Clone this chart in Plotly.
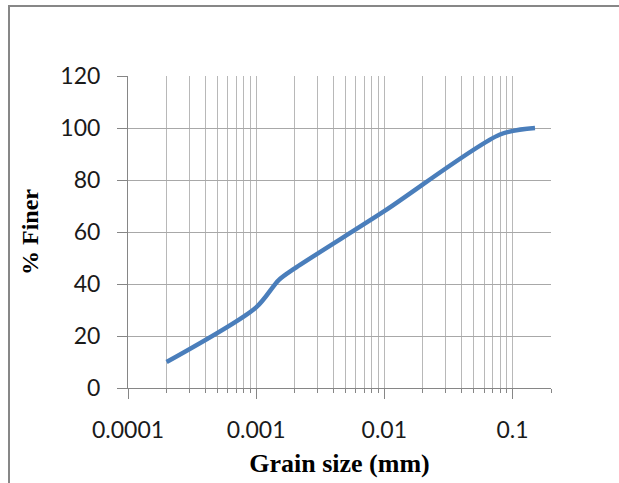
import plotly.graph_objects as go

# Data
grain_size_mm = [0.0002, 0.001, 0.0015, 0.002, 0.01, 0.08, 0.15]
percent_finer = [10, 31, 41.5, 46, 68, 97.5, 100]

x_tick_vals = [0.0001, 0.001, 0.01, 0.1]
x_tick_text = ["0.0001", "0.001", "0.01", "0.1"]
y_tick_vals = [0, 20, 40, 60, 80, 100, 120]

W, H = 619, 483
L, R, T, B = 128, 68, 76, 95
pw, ph = W - L - R, H - T - B

fig = go.Figure()
fig.add_trace(go.Scatter(
    x=grain_size_mm, y=percent_finer, mode="lines",
    line=dict(color="#4a7ebb", width=4.5, shape="spline", smoothing=0.8),
    hoverinfo="skip", showlegend=False,
))

tick_font = dict(family="Lato, Open Sans, sans-serif", size=23, color="#1a1a1a")
xtitle_font = dict(family="Liberation Serif, Times New Roman, serif", size=26, color="#000000")
ytitle_font = dict(family="Liberation Serif, Times New Roman, serif", size=24, color="#000000")

grid_col = "#b8b8b8"

fig.update_layout(
    width=W, height=H,
    margin=dict(l=L, r=R, t=T, b=B, autoexpand=False),
    paper_bgcolor="white", plot_bgcolor="white",
    showlegend=False,
    xaxis=dict(
        type="log", range=[-4, -0.69897],
        automargin=False,
        tickvals=x_tick_vals, ticktext=x_tick_text,
        tickfont=tick_font,
        ticks="outside", ticklen=10, tickcolor="#868686", tickwidth=1,
        showline=True, linecolor="#868686", linewidth=1,
        showgrid=True, gridcolor=grid_col, gridwidth=1.3,
        minor=dict(dtick="D1", showgrid=True, gridcolor=grid_col, gridwidth=1.3,
                   ticks="outside", ticklen=4, tickcolor="#868686"),
        zeroline=False,
        ticklabelstandoff=11,
        title=dict(text="<b>Grain size (mm)</b>", font=xtitle_font, standoff=12),
    ),
    yaxis=dict(
        range=[0, 120], tickvals=y_tick_vals,
        automargin=False,
        tickfont=tick_font,
        ticks="outside", ticklen=10, tickcolor="#868686", tickwidth=1,
        showline=True, linecolor="#868686", linewidth=1,
        showgrid=True, gridcolor="#a8a8a8", gridwidth=1.3,
        zeroline=False,
        ticklabelstandoff=12,
        title=dict(text="<b>% Finer</b>", font=ytitle_font, standoff=14),
    ),
)

# outer chart-area border (extends past the visible window on right/bottom)
fig.add_shape(
    type="rect", xref="paper", yref="paper",
    x0=(9 - L) / pw, x1=1.3, y0=-0.5, y1=1 + (T - 6) / ph,
    line=dict(color="#878787", width=2), fillcolor="rgba(0,0,0,0)", layer="below",
)

fig.write_html(
    "out.html",
    config={"displayModeBar": False},
    post_script="document.body.style.margin='0';document.body.style.overflow='hidden';",
)
